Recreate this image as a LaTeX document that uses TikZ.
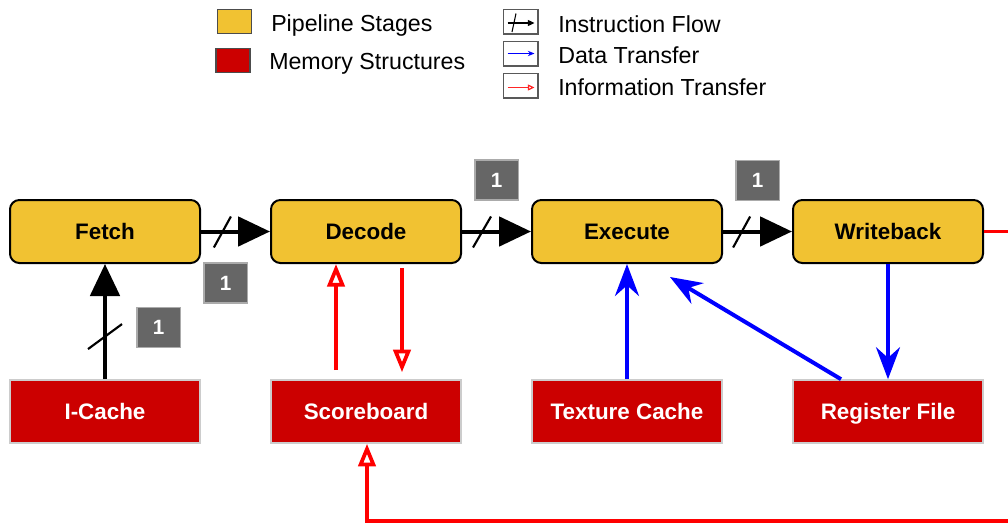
\documentclass[tikz,border=0pt]{standalone}
\usepackage{fontspec}
\setmainfont{Liberation Sans}
\usetikzlibrary{arrows.meta,calc}
\definecolor{stageyellow}{HTML}{F1C232}
\definecolor{memred}{HTML}{CC0000}
\definecolor{cntgray}{HTML}{666666}
\definecolor{memborder}{HTML}{CCCCCC}
\definecolor{pureblue}{HTML}{0000FF}
\definecolor{purered}{HTML}{FF0000}
\tikzset{
  stage/.style={draw=black, line width=1.5pt, fill=stageyellow, rounded corners=7pt,
    minimum width=142.5pt, minimum height=47.25pt, inner sep=0pt,
    text height=12.2pt, text depth=0pt,
    font=\bfseries\fontsize{16.8}{18}\selectfont},
  mem/.style={draw=memborder, line width=1.2pt, fill=memred, text=white,
    minimum width=142.5pt, minimum height=47.25pt, inner sep=0pt,
    text height=12.2pt, text depth=0pt,
    font=\bfseries\fontsize{16.8}{18}\selectfont},
  cnt/.style={fill=cntgray, draw=cntgray!55, line width=1pt, text=white,
    minimum width=32.5pt, minimum height=30pt, inner sep=0pt,
    font=\bfseries\fontsize{15.5}{17}\selectfont},
  instr/.style={line width=3pt, -{Triangle[length=24pt,width=22pt]}},
  slashmark/.style={line width=1.6pt},
  data/.style={pureblue, line width=3pt, -{Stealth[length=24pt,width=18pt,inset=8pt]}},
  info/.style={purered, line width=2.8pt, -{Triangle[open,length=17pt,width=13pt]}},
  infoline/.style={purered, line width=2.4pt},
  legtext/.style={anchor=base west, inner sep=0pt, font=\fontsize{17.4}{19}\selectfont},
  legbox/.style={draw=black!65, line width=1pt, fill=white, minimum width=26pt, minimum height=18.5pt, inner sep=0pt},
  swatch/.style={line width=0.9pt, minimum width=25.5pt, minimum height=18.5pt, inner sep=0pt},
}
\begin{document}
\begin{tikzpicture}[x=0.75pt, y=-0.75pt]
\useasboundingbox (0,0) rectangle (1008,525);

% legend
\node[swatch, fill=stageyellow, draw=black!70] (swY) at (234.5,21.5) {};
\node[swatch, fill=memred, draw=black!70] (swR) at (233,60.5) {};
\node[legtext] (ltY) at (271,31) {Pipeline Stages};
\node[legtext] (ltR) at (269,69.5) {Memory Structures};
\node[legbox] (lb1) at (520.5,21.5) {};
\node[legbox] (lb2) at (520.5,53.5) {};
\node[legbox] (lb3) at (520.5,85.5) {};
\draw[line width=0.9pt, -{Triangle[length=5pt,width=4.5pt]}] ($(lb1.west)+(5,1.5)$) -- ($(lb1.east)+(-4,1.5)$);
\draw[line width=0.8pt] ($(lb1.west)+(9.5,10.5)$) -- ($(lb1.west)+(13.5,-8)$);
\draw[pureblue, line width=0.9pt, -{Stealth[length=5pt,width=4pt]}] ($(lb2.west)+(5,0)$) -- ($(lb2.east)+(-4,0)$);
\draw[purered!85!white, line width=0.9pt, -{Triangle[open,length=5pt,width=4.5pt]}] ($(lb3.west)+(5,2)$) -- ($(lb3.east)+(-4,2)$);
\node[legtext] (lt1) at (558,32) {Instruction Flow};
\node[legtext] (lt2) at (558,63) {Data Transfer};
\node[legtext] (lt3) at (558,95) {Information Transfer};

% stages
\node[stage] (fetch) at (105,231.5) {Fetch};
\node[stage] (dec) at (366,231.5) {Decode};
\node[stage] (exe) at (627,231.5) {Execute};
\node[stage] (wb) at (888,231.5) {Writeback};

% memory structures
\node[mem] (ic) at (105,411.5) {I-Cache};
\node[mem] (sb) at (366,411.5) {Scoreboard};
\node[mem] (tc) at (627,411.5) {Texture Cache};
\node[mem] (rf) at (888,411.5) {Register File};

% counters
\node[cnt] (c1) at (225.5,283) {1};
\node[cnt] (c2) at (158.5,327.5) {1};
\node[cnt] (c3) at (496.5,180) {1};
\node[cnt] (c4) at (757.5,180.5) {1};

% instruction flow
\draw[instr] (fetch.east) -- (dec.west);
\draw[instr] (dec.east) -- (exe.west);
\draw[instr] (exe.east) -- (wb.west);
\draw[instr] (ic.north) -- (fetch.south);
\draw[slashmark] ($(fetch.east)!0.31!(dec.west)+(-8.5,16)$) -- ++(17,-31);
\draw[slashmark] ($(dec.east)!0.29!(exe.west)+(-9,16)$) -- ++(18,-31);
\draw[slashmark] ($(exe.east)!0.27!(wb.west)+(-8.5,16)$) -- ++(17,-31);
\draw[slashmark] ($(ic.north)!0.37!(fetch.south)+(-17,12.5)$) -- ++(34,-25);

% information transfer
\draw[info] ($(sb.north)+(-30,-9)$) -- ($(dec.south)+(-30,0)$);
\draw[info] ($(dec.south)+(36,4)$) -- ($(sb.north)+(36,-7)$);
\coordinate (wbR) at (1008,231.5);
\coordinate (botR) at (1008,521);
\draw[infoline] (wb.east) -- (wbR);
\draw[info] (botR) -| ($(sb.south)+(1,0)$);

% data transfer
\draw[data] (tc.north) -- (exe.south);
\draw[data] ($(rf.north)+(-47,0)$) -- ($(exe.south)+(43,13)$);
\draw[data] (wb.south) -- (rf.north);
\end{tikzpicture}
\end{document}
